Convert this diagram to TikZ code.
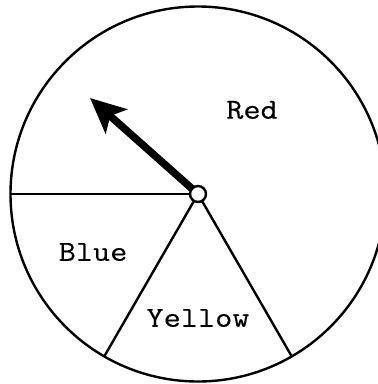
\documentclass[tikz,border=0pt]{standalone}
\usepackage{fontspec}
\newfontfamily\labelfont{Latin Modern Mono}[FakeStretch=1.15,FakeBold=0.3]
\usetikzlibrary{arrows.meta,calc}
\tikzset{
  rim/.style={line width=2.4pt},
  spoke/.style={line width=2.4pt},
  pointer/.style={line width=7.5pt,-{Stealth[length=35pt,width=32pt,inset=8pt]}},
  label/.style={font=\labelfont\fontsize{29}{31}\selectfont,inner sep=0pt},
  hub/.style={circle,draw,line width=2.4pt,fill=white,minimum size=16pt,inner sep=0pt}
}
\begin{document}
\begin{tikzpicture}[x=1pt,y=-1pt]
\useasboundingbox (0,0) rectangle (378,384);
\clip (0,0) rectangle (378,384);
\coordinate (c) at (198,194);
\draw[rim] (c) circle[radius=187.5];
\coordinate (l) at ($(c)+(-187.5,0)$);
\coordinate (bl) at ($(c)+(-93.75,162.4)$);
\coordinate (br) at ($(c)+(93.75,162.4)$);
\coordinate (tip) at (90,98);
\draw[spoke] (c) -- (l);
\draw[spoke] (c) -- (bl);
\draw[spoke] (c) -- (br);
\draw[pointer] (c) -- (tip);
\node[hub] (h) at (c) {};
\node[label] (red) at (252,110) {Red};
\node[label] (blue) at (93,252) {Blue};
\node[label] (yellow) at (198,318) {Yellow};
\end{tikzpicture}
\end{document}
